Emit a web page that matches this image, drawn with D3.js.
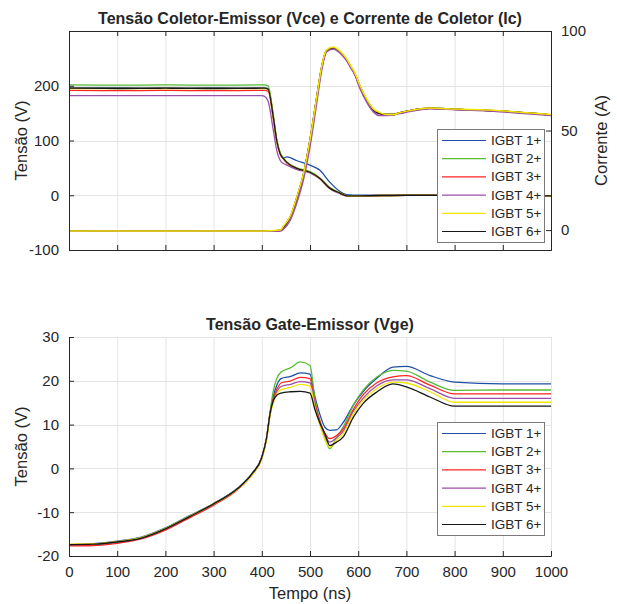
<!DOCTYPE html>
<html>
<head>
<meta charset="utf-8">
<script src="https://cdn.jsdelivr.net/npm/d3@7"></script>
<style>
    body { margin: 0; background: #fff; }
    text { font-family: "Liberation Sans", Arial, sans-serif; fill: #262626; }
</style>
</head>
<body>
<div class="dataContainer"></div>
<script>
var nomes = ["IGBT 1+", "IGBT 2+", "IGBT 3+", "IGBT 4+", "IGBT 5+", "IGBT 6+"];
var cores = ["#1f4fa3", "#55bb33", "#ff2424", "#9c4ea8", "#f2e600", "#161616"];

var xTicks = [0, 100, 200, 300, 400, 500, 600, 700, 800, 900, 1000];
var vceTicks = [-100, 0, 100, 200];
var icTicks = [0, 50, 100];
var vgeTicks = [-20, -10, 0, 10, 20, 30];

// Vce (V), eixo esquerdo
var tempoVce = [0, 100, 200, 300, 400, 405, 413, 424, 431, 438, 445, 452, 473, 500, 520, 541, 562, 576, 600, 700, 800, 900, 1000];
var vce1 = [196, 196.5, 196, 196.5, 196, 196, 195, 142, 100, 77, 68, 70, 63, 55, 46, 24, 7, 1, 0, 0, 1, 0, -1];
var vce2 = [201.5, 201, 201.5, 201, 201.5, 201.5, 200, 146, 102, 78, 68, 61, 50, 43, 32, 14, 4, -1, -1, 0, 0, 0, -1];
var vce3 = [191.5, 191, 191.5, 191, 191.5, 191.5, 190, 140, 98, 75, 66, 59, 48, 42, 31, 13, 4, -1, -1, 0, 0, 0, -1];
var vce4 = [182, 182, 182, 182, 182, 181, 172, 118, 82, 64, 58, 55, 47, 41, 30, 12, 3, -1, -1, 0, 0, 0, -1];
var vce5 = [195, 195, 195, 195, 195, 195, 194, 141, 99, 76, 67, 60, 49, 42, 31, 13, 4, -1, -1, 0, 0, 0, -1];
var vce6 = [195.5, 195, 195.5, 195, 195.5, 195.5, 194, 142, 100, 76, 67, 60, 49, 42, 31, 13, 4, -1, -1, 0, 0, 0, -1];

// Ic (A), eixo direito
var tempoIc = [0, 100, 200, 300, 400, 438, 445, 459, 473, 487, 500, 514, 524, 534, 548, 562, 576, 586, 593, 603, 617, 631, 645, 659, 672, 687, 707, 749, 800, 893, 1000];
var ic1 = [-0.5, -0.4, -0.5, -0.4, -0.5, -0.2, 1.5, 6.5, 16.5, 28.5, 45, 66.5, 81.5, 90, 91.5, 89.5, 85.5, 81.5, 78.5, 72.5, 65.5, 60.5, 58.5, 58, 58, 59, 60, 61.2, 60.7, 59.8, 57.8];
var ic2 = [-0.5, -0.4, -0.5, -0.4, -0.5, -0.2, 1.5, 6.5, 16.5, 28.5, 45, 66.5, 81.5, 90, 91.5, 89.5, 85.5, 81.5, 78.5, 72.5, 65.5, 60.5, 58.5, 58, 58, 59, 60, 61.2, 60.7, 59.8, 57.8];
var ic3 = [-0.5, -0.4, -0.5, -0.4, -0.5, -0.2, 1.5, 6.5, 16.5, 28.5, 45, 66.5, 81.5, 90, 91.5, 89.5, 85.5, 81.5, 78.5, 72.5, 65.5, 60.5, 58.5, 58, 58, 59, 60, 61.2, 60.7, 59.8, 57.8];
var ic4 = [-0.6, -0.5, -0.6, -0.5, -0.6, -0.5, 0.5, 5, 14, 26, 42, 64, 80, 89.5, 91, 89, 85, 81, 78, 71.5, 64.5, 59.5, 57.5, 57.5, 58, 58.5, 59.5, 61, 60.5, 59.5, 57.5];
var ic5 = [-0.5, -0.4, -0.5, -0.4, -0.5, 0, 2, 7, 17, 29, 45.5, 67, 82, 90.5, 92, 90, 86, 82, 79, 73, 66, 61, 59, 58, 58, 59, 60, 61.3, 60.8, 60, 58];
var ic6 = [-0.5, -0.4, -0.5, -0.4, -0.5, -0.2, 1.5, 6.5, 16.5, 28.5, 45, 66.5, 81.5, 90, 91.5, 89.5, 85.5, 81.5, 78.5, 72.5, 65.5, 60.5, 58.5, 58, 58, 59, 60, 61.2, 60.7, 59.8, 57.8];

// Vge (V)
var tempoVge = [0, 50, 100, 150, 200, 250, 300, 350, 380, 400, 410, 417, 424, 431, 440, 460, 480, 500, 510, 520, 531, 541, 555, 569, 590, 610, 638, 672, 700, 749, 800, 900, 1000];
var vge1 = [-17.5, -17.2, -16.6, -15.7, -13.6, -10.8, -8, -4.5, -1.1, 2.6, 7.1, 12.6, 16.5, 19, 20.5, 21, 21.8, 21.5, 16.5, 12.5, 9.4, 8.7, 8.8, 10.5, 14.5, 17.5, 20.5, 23.1, 23.3, 21.2, 19.7, 19.3, 19.3];
var vge2 = [-17.4, -17.3, -16.8, -15.8, -13.8, -11, -8.1, -4.6, -1.2, 2.5, 7, 12.8, 17.8, 20.5, 22, 23, 24.3, 23.5, 16, 11, 7, 4.5, 7, 9.5, 14.4, 17.8, 20.8, 22.4, 22.2, 19.7, 17.8, 17.9, 17.9];
var vge3 = [-17.7, -17.6, -17.1, -16.1, -14.1, -11.3, -8.4, -4.8, -1.4, 2.3, 6.8, 12.3, 16, 18, 19.5, 20, 20.8, 20.5, 15, 11, 8, 6.8, 7.5, 9, 13.5, 16.8, 19.5, 20.9, 21.2, 19, 17, 17, 17];
var vge4 = [-17.4, -17.3, -16.8, -15.9, -13.8, -11, -8.1, -4.6, -1.2, 2.5, 7, 12.4, 15.5, 17.5, 18.7, 19.2, 19.8, 19.5, 14.5, 10.5, 7.5, 6, 7, 8.5, 13, 16, 18.8, 20.2, 20.2, 18.2, 16, 16, 16];
var vge5 = [-17.3, -17.2, -16.7, -15.8, -13.7, -10.9, -8.1, -4.7, -1.4, 2.2, 6.6, 12, 15, 17, 18, 18.5, 19.2, 18.8, 14, 10, 6.5, 4.8, 6.5, 8, 12.5, 15.5, 18.2, 19.7, 19.5, 17.5, 15.1, 15.1, 15.1];
var vge6 = [-17.4, -17.3, -16.8, -15.9, -13.8, -11, -8.1, -4.6, -1.2, 2.5, 7, 12.4, 15.5, 16.7, 17.2, 17.5, 17.6, 17.2, 13.5, 10.5, 7.9, 5.2, 6, 7.2, 11.7, 14.8, 17.4, 19.3, 18.6, 16.3, 14.2, 14.2, 14.2];

var vceSeries = [vce1, vce2, vce3, vce4, vce5, vce6];
var icSeries = [ic1, ic2, ic3, ic4, ic5, ic6];
var vgeSeries = [vge1, vge2, vge3, vge4, vge5, vge6];

var W = 617, H = 604;
var left = 69, right = 551;
var top1 = 31, bot1 = 250;
var top2 = 337, bot2 = 556;
var axisCor = "#262626", gridCor = "#e4e4e4";
var fmt = function (d) { return String(d); };

var svg = d3.select(".dataContainer").append("svg")
    .attr("width", W)
    .attr("height", H);

var x = d3.scaleLinear().domain([0, 1000]).range([left, right]);
var yVce = d3.scaleLinear().domain([-100, 300]).range([bot1, top1]);
var yIc = d3.scaleLinear().domain([-10, 100]).range([bot1, top1]);
var yVge = d3.scaleLinear().domain([-20, 30]).range([bot2, top2]);

var defs = svg.append("defs");
defs.append("clipPath").attr("id", "clip1").append("rect")
    .attr("x", left).attr("y", top1).attr("width", right - left).attr("height", bot1 - top1);
defs.append("clipPath").attr("id", "clip2").append("rect")
    .attr("x", left).attr("y", top2).attr("width", right - left).attr("height", bot2 - top2);

function grade(g, yScale, yT, t, b) {
    g.selectAll(".gx").data(xTicks).enter().append("line")
        .attr("x1", function (d) { return x(d) + 0.5; })
        .attr("x2", function (d) { return x(d) + 0.5; })
        .attr("y1", t).attr("y2", b)
        .attr("stroke", gridCor);
    g.selectAll(".gy").data(yT).enter().append("line")
        .attr("x1", left).attr("x2", right)
        .attr("y1", function (d) { return Math.round(yScale(d)) + 0.5; })
        .attr("y2", function (d) { return Math.round(yScale(d)) + 0.5; })
        .attr("stroke", gridCor);
}

function linha(tempo, yScale) {
    return d3.line()
        .x(function (d, i) { return x(tempo[i]); })
        .y(function (d) { return yScale(d); })
        .curve(d3.curveMonotoneX);
}

function estiloEixo(g) {
    g.select(".domain").attr("stroke", axisCor);
    g.selectAll(".tick line").attr("stroke", axisCor);
    g.selectAll(".tick text").attr("font-size", "15px").attr("fill", axisCor);
}

// ---------- grafico de cima ----------
var g1 = svg.append("g");
grade(g1, yVce, [-100, 0, 100, 200, 300], top1, bot1);

var p1 = g1.append("g").attr("clip-path", "url(#clip1)");
vceSeries.forEach(function (s, i) {
    p1.append("path")
        .attr("d", linha(tempoVce, yVce)(s))
        .attr("fill", "none")
        .attr("stroke", cores[i])
        .attr("stroke-width", 1.3);
});
[0, 1, 2, 5, 3, 4].forEach(function (i) {
    p1.append("path")
        .attr("d", linha(tempoIc, yIc)(icSeries[i]))
        .attr("fill", "none")
        .attr("stroke", cores[i])
        .attr("stroke-width", 1.5);
});

g1.append("g").attr("transform", "translate(0," + bot1 + ")")
    .call(d3.axisBottom(x).tickValues(xTicks).tickSize(-5).tickFormat(""))
    .call(estiloEixo);
g1.append("g").attr("transform", "translate(0," + top1 + ")")
    .call(d3.axisTop(x).tickValues(xTicks).tickSize(-5).tickFormat(""))
    .call(estiloEixo);
g1.append("g").attr("transform", "translate(" + left + ",0)")
    .call(d3.axisLeft(yVce).tickValues(vceTicks).tickSize(-5).tickPadding(10).tickFormat(fmt))
    .call(estiloEixo);
g1.append("g").attr("transform", "translate(" + right + ",0)")
    .call(d3.axisRight(yIc).tickValues(icTicks).tickSize(-5).tickPadding(10).tickFormat(fmt))
    .call(estiloEixo);

svg.append("text")
    .attr("x", (left + right) / 2).attr("y", 24)
    .attr("text-anchor", "middle")
    .attr("font-size", "16px").attr("font-weight", "bold")
    .text("Tensão Coletor-Emissor (Vce) e Corrente de Coletor (Ic)");
svg.append("text")
    .attr("transform", "translate(27," + (top1 + bot1) / 2 + ") rotate(-90)")
    .attr("text-anchor", "middle")
    .attr("font-size", "16.5px")
    .text("Tensão (V)");
svg.append("text")
    .attr("transform", "translate(607," + (top1 + bot1) / 2 + ") rotate(-90)")
    .attr("text-anchor", "middle")
    .attr("font-size", "16.5px")
    .text("Corrente (A)");

// ---------- grafico de baixo ----------
var g2 = svg.append("g");
grade(g2, yVge, vgeTicks, top2, bot2);

var p2 = g2.append("g").attr("clip-path", "url(#clip2)");
vgeSeries.forEach(function (s, i) {
    p2.append("path")
        .attr("d", linha(tempoVge, yVge)(s))
        .attr("fill", "none")
        .attr("stroke", cores[i])
        .attr("stroke-width", 1.3);
});

g2.append("g").attr("transform", "translate(0," + bot2 + ")")
    .call(d3.axisBottom(x).tickValues(xTicks).tickSize(-5).tickPadding(10).tickFormat(fmt))
    .call(estiloEixo);
g2.append("g").attr("transform", "translate(" + left + ",0)")
    .call(d3.axisLeft(yVge).tickValues(vgeTicks).tickSize(-5).tickPadding(10).tickFormat(fmt))
    .call(estiloEixo);

svg.append("text")
    .attr("x", (left + right) / 2).attr("y", 330)
    .attr("text-anchor", "middle")
    .attr("font-size", "16px").attr("font-weight", "bold")
    .text("Tensão Gate-Emissor (Vge)");
svg.append("text")
    .attr("transform", "translate(27," + (top2 + bot2) / 2 + ") rotate(-90)")
    .attr("text-anchor", "middle")
    .attr("font-size", "16.5px")
    .text("Tensão (V)");
svg.append("text")
    .attr("x", (left + right) / 2).attr("y", 599)
    .attr("text-anchor", "middle")
    .attr("font-size", "16.5px")
    .text("Tempo (ns)");

// ---------- legendas ----------
function legenda(x0, y0) {
    var lg = svg.append("g").attr("transform", "translate(" + x0 + "," + y0 + ")");
    lg.append("rect")
        .attr("x", 0.5).attr("y", 0.5)
        .attr("width", 107).attr("height", 113)
        .attr("fill", "#fff")
        .attr("stroke", "#7a7a7a");
    var item = lg.selectAll(".item").data(nomes).enter().append("g")
        .attr("transform", function (d, i) { return "translate(0," + (11.5 + i * 18.2) + ")"; });
    item.append("line")
        .attr("x1", 5).attr("x2", 49)
        .attr("stroke", function (d, i) { return cores[i]; })
        .attr("stroke-width", 1.2);
    item.append("text")
        .attr("x", 54).attr("y", 4.5)
        .attr("font-size", "13.5px")
        .text(function (d) { return d; });
}
legenda(437, 129);
legenda(437, 422);
</script>
</body>
</html>
